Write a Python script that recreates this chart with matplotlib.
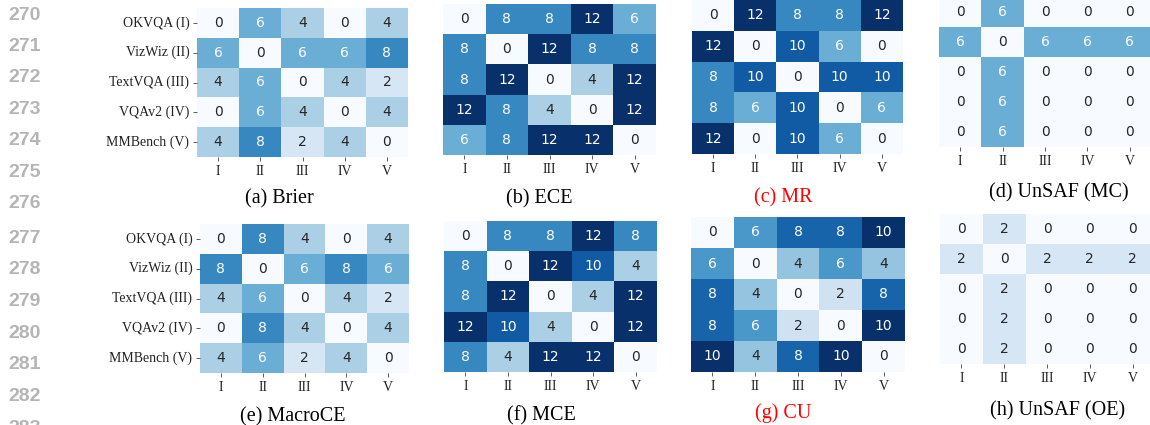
import numpy as np
import matplotlib.pyplot as plt
import seaborn as sns

# dataset labels (rows) and short column labels
row_labels = ['OKVQA (I)', 'VizWiz (II)', 'TextVQA (III)', 'VQAv2 (IV)', 'MMBench (V)']
col_labels = ['I', 'II', 'III', 'IV', 'V']

brier = [[0, 6, 4, 0, 4],
         [6, 0, 6, 6, 8],
         [4, 6, 0, 4, 2],
         [0, 6, 4, 0, 4],
         [4, 8, 2, 4, 0]]
ece = [[0, 8, 8, 12, 6],
       [8, 0, 12, 8, 8],
       [8, 12, 0, 4, 12],
       [12, 8, 4, 0, 12],
       [6, 8, 12, 12, 0]]
mr = [[0, 12, 8, 8, 12],
      [12, 0, 10, 6, 0],
      [8, 10, 0, 10, 10],
      [8, 6, 10, 0, 6],
      [12, 0, 10, 6, 0]]
unsaf_mc = [[0, 6, 0, 0, 0],
            [6, 0, 6, 6, 6],
            [0, 6, 0, 0, 0],
            [0, 6, 0, 0, 0],
            [0, 6, 0, 0, 0]]
macroce = [[0, 8, 4, 0, 4],
           [8, 0, 6, 8, 6],
           [4, 6, 0, 4, 2],
           [0, 8, 4, 0, 4],
           [4, 6, 2, 4, 0]]
mce = [[0, 8, 8, 12, 8],
       [8, 0, 12, 10, 4],
       [8, 12, 0, 4, 12],
       [12, 10, 4, 0, 12],
       [8, 4, 12, 12, 0]]
cu = [[0, 6, 8, 8, 10],
      [6, 0, 4, 6, 4],
      [8, 4, 0, 2, 8],
      [8, 6, 2, 0, 10],
      [10, 4, 8, 10, 0]]
unsaf_oe = [[0, 2, 0, 0, 0],
            [2, 0, 2, 2, 2],
            [0, 2, 0, 0, 0],
            [0, 2, 0, 0, 0],
            [0, 2, 0, 0, 0]]

matrices = [brier, ece, mr, unsaf_mc, macroce, mce, cu, unsaf_oe]
captions = ['(a) Brier', '(b) ECE', '(c) MR', '(d) UnSAF (MC)',
            '(e) MacroCE', '(f) MCE', '(g) CU', '(h) UnSAF (OE)']
color_max = [12, 12, 12, 12, 12, 12, 10, 12]
line_numbers = list(range(270, 284))

# layout in pixels (left, top, right, bottom) and caption centres
W, H = 1150, 425
boxes = [(197, 8, 408, 157), (443, 4, 656, 155), (692, 0, 903, 154), (939, -3, 1151, 147),
         (200, 224, 409, 373), (444, 221, 657, 372), (691, 217, 905, 372), (940, 214, 1154, 364)]
cap_pos = [(279, 199), (539, 199), (783, 198), (1059, 193),
           (293, 417), (541, 416), (783, 413), (1058, 411)]
cap_colors = ['black', 'black', 'red', 'black', 'black', 'black', 'red', 'black']
serif = 'Liberation Serif'

fig = plt.figure(figsize=(W / 100, H / 100), dpi=100)

for i, (mat, box) in enumerate(zip(matrices, boxes)):
    l, t, r, b = box
    ax = fig.add_axes([l / W, 1 - b / H, (r - l) / W, (b - t) / H])
    show_y = i in (0, 4)
    sns.heatmap(np.array(mat), ax=ax, cmap='Blues', vmin=0, vmax=color_max[i],
                annot=True, fmt='d', cbar=False, annot_kws={'size': 10},
                xticklabels=col_labels, yticklabels=row_labels if show_y else False)
    ax.set_xticklabels(col_labels, fontfamily=serif, fontsize=10, rotation=0)
    if show_y:
        ax.set_yticklabels(row_labels, fontfamily=serif, fontsize=10, rotation=0)
    ax.tick_params(length=3, width=0.6, pad=2.5, colors='#444444', labelcolor='#222222')

    cx, cy = cap_pos[i]
    fig.text(cx / W, 1 - cy / H, captions[i], ha='center', va='center',
             fontfamily=serif, fontsize=14.5, color=cap_colors[i])

# page line numbers down the left margin
for k, n in enumerate(line_numbers):
    y = 15 + 31.4 * k if k < 7 else 238 + 31.7 * (k - 7)
    fig.text(41 / W, 1 - y / H, str(n), ha='right', va='center',
             fontfamily='Liberation Sans', fontweight='bold', fontsize=14, color='#b5b5b5')

fig.savefig('out.png', dpi=100)
